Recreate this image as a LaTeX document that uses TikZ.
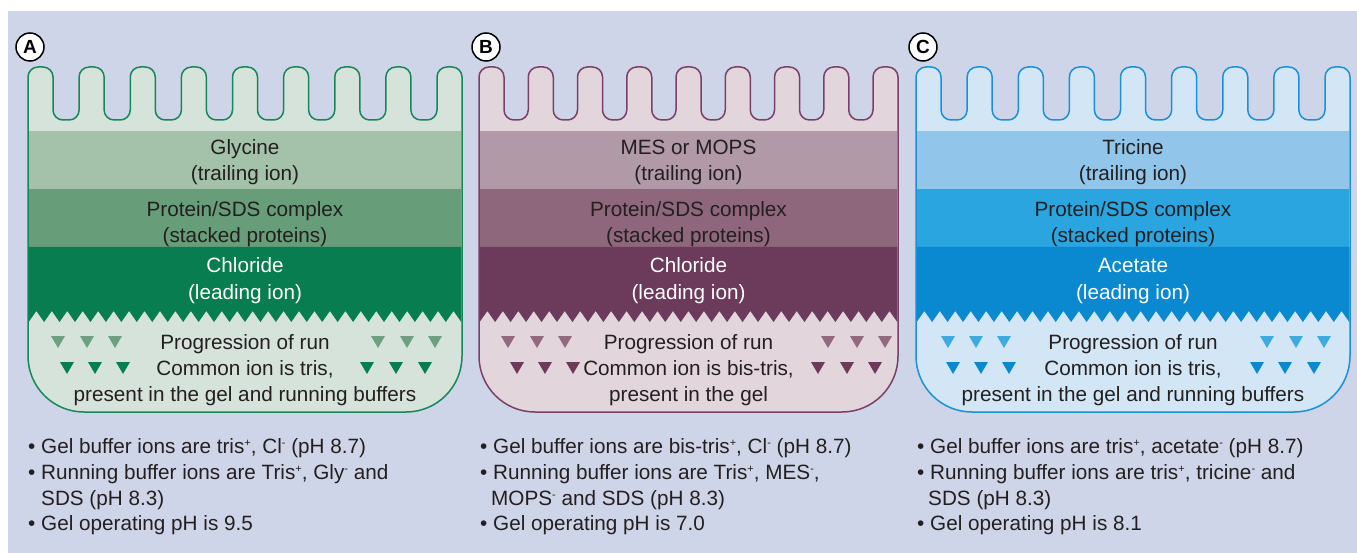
\documentclass[tikz,border=0pt]{standalone}
\usepackage{fontspec}
\setmainfont{Liberation Sans}
\definecolor{bg}{HTML}{CFD5E8}
\definecolor{txtc}{HTML}{231F20}
\definecolor{aL}{HTML}{D6E3DB}\definecolor{aO}{HTML}{17875A}
\definecolor{aA}{HTML}{A3C2A9}\definecolor{aB}{HTML}{689D79}\definecolor{aC}{HTML}{087D4F}
\definecolor{aT}{HTML}{6E9F80}
\definecolor{bL}{HTML}{E3D5DC}\definecolor{bO}{HTML}{7B4068}
\definecolor{bA}{HTML}{B199A7}\definecolor{bB}{HTML}{8E677C}\definecolor{bC}{HTML}{6C3A5A}
\definecolor{bT}{HTML}{93697F}
\definecolor{cL}{HTML}{D3E6F6}\definecolor{cO}{HTML}{1B8FD8}
\definecolor{cA}{HTML}{92C5EA}\definecolor{cB}{HTML}{2AA5DF}\definecolor{cC}{HTML}{0A89D0}
\definecolor{cT}{HTML}{3DAAE0}
\newcommand\sups[1]{\raisebox{0.62ex}{\fontsize{11}{11}\selectfont #1}}
\newcommand\gelpanel[8]{%
  \pgfmathsetmacro\gL{#1}\pgfmathsetmacro\gR{#2}%
  \pgfmathsetmacro\gW{(\gR-\gL-9*25)/8}%
  \pgfmathsetmacro\gD{(\gR-\gL-1.4)/#8}%
  \filldraw[fill=#3,draw=#4,line width=1.5pt] (\gL,250) [rounded corners=10pt] -- (\gL,67) -- ++(25,0) -- ++(0,53)
    \foreach \k in {1,...,7}{ -- ++(\gW,0) -- ++(0,-53) -- ++(25,0) -- ++(0,53)}
    -- ++(\gW,0) -- ++(0,-53) -- (\gR,67) -- (\gR,200) [rounded corners=56pt] -- (\gR,412) -- (\gL,412) -- cycle;
  \fill[#5] (\gL+0.75,131) rectangle (\gR-0.75,189);
  \fill[#6] (\gL+0.75,189) rectangle (\gR-0.75,247);
  \fill[#7] (\gL+0.75,247) -- (\gR-0.75,247) -- (\gR-0.75,322)
    \foreach \i in {1,...,#8}{ -- ++(-\gD/2,-11) -- ++(-\gD/2,11)} -- cycle;
}
\newcommand\tri[3]{\fill[#1] (#2-7,#3-6) -- (#2+7,#3-6) -- (#2,#3+6) -- cycle;}
\begin{document}
\begin{tikzpicture}[x=1pt,y=-1pt,
  txt/.style={anchor=base,inner sep=0pt,font=\fontsize{20.7}{26}\selectfont,text=txtc},
  txtw/.style={txt,text=white},
  btxt/.style={anchor=base west,inner sep=0pt,font=\fontsize{20.7}{26}\selectfont,text=txtc},
  circlab/.style={circle,draw=black,line width=1.5pt,fill=white,inner sep=0pt,minimum size=28pt,font=\fontsize{19}{19}\selectfont\bfseries}]
\useasboundingbox (0,0) rectangle (1357,553);
\fill[white] (0,0) rectangle (1357,553);
\fill[bg] (8,11) rectangle (1357,553);

% panels
\gelpanel{28}{462}{aL}{aO}{aA}{aB}{aC}{28}
\gelpanel{479}{898}{bL}{bO}{bA}{bB}{bC}{27}
\gelpanel{916}{1350}{cL}{cO}{cA}{cB}{cC}{28}

% labels
\node[circlab] (labA) at (30,47) {A};
\node[circlab] (labB) at (486,47) {B};
\node[circlab] (labC) at (923,47) {C};

% triangles A
\foreach \x in {58,87,115,378,407,435}{\tri{aT}{\x}{342}}
\foreach \x in {67,95,123,367,396,425}{\tri{aC}{\x}{368}}
% triangles B
\foreach \x in {508,537,565,828,857,885}{\tri{bT}{\x}{342}}
\foreach \x in {517,545,573,818,847,875}{\tri{bC}{\x}{368}}
% triangles C
\foreach \x in {948,976,1004,1267,1296,1324}{\tri{cT}{\x}{342}}
\foreach \x in {953,981,1009,1257,1285,1314}{\tri{cC}{\x}{368}}

% panel A text
\node[txt] (a1) at (245,155) {Glycine};
\node[txt] (a2) at (245,181) {(trailing ion)};
\node[txt] (a3) at (245,217) {Protein/SDS complex};
\node[txt] (a4) at (245,243) {(stacked proteins)};
\node[txtw] (a5) at (245,273) {Chloride};
\node[txtw] (a6) at (245,299) {(leading ion)};
\node[txt] (a7) at (245,349) {Progression of run};
\node[txt] (a8) at (245,375) {Common ion is tris,};
\node[txt] (a9) at (245,401) {present in the gel and running buffers};

% panel B text
\node[txt] (b1) at (688.5,155) {MES or MOPS};
\node[txt] (b2) at (688.5,181) {(trailing ion)};
\node[txt] (b3) at (688.5,217) {Protein/SDS complex};
\node[txt] (b4) at (688.5,243) {(stacked proteins)};
\node[txtw] (b5) at (688.5,273) {Chloride};
\node[txtw] (b6) at (688.5,299) {(leading ion)};
\node[txt] (b7) at (688.5,349) {Progression of run};
\node[txt] (b8) at (688.5,375) {Common ion is bis-tris,};
\node[txt] (b9) at (688.5,401) {present in the gel};

% panel C text
\node[txt] (c1) at (1133,155) {Tricine};
\node[txt] (c2) at (1133,181) {(trailing ion)};
\node[txt] (c3) at (1133,217) {Protein/SDS complex};
\node[txt] (c4) at (1133,243) {(stacked proteins)};
\node[txtw] (c5) at (1133,273) {Acetate};
\node[txtw] (c6) at (1133,299) {(leading ion)};
\node[txt] (c7) at (1133,349) {Progression of run};
\node[txt] (c8) at (1133,375) {Common ion is tris,};
\node[txt] (c9) at (1133,401) {present in the gel and running buffers};

% bullets A
\node[btxt] (ab1) at (28,453) {\textbullet\ Gel buffer ions are tris\sups{+}, Cl\sups{-} (pH 8.7)};
\node[btxt] (ab2) at (28,479) {\textbullet\ Running buffer ions are Tris\sups{+}, Gly\sups{-} and};
\node[btxt] (ab3) at (41,505) {SDS (pH 8.3)};
\node[btxt] (ab4) at (28,530) {\textbullet\ Gel operating pH is 9.5};
% bullets B
\node[btxt] (bb1) at (480,453) {\textbullet\ Gel buffer ions are bis-tris\sups{+}, Cl\sups{-} (pH 8.7)};
\node[btxt] (bb2) at (480,479) {\textbullet\ Running buffer ions are Tris\sups{+}, MES\sups{-},};
\node[btxt] (bb3) at (491,505) {MOPS\sups{-} and SDS (pH 8.3)};
\node[btxt] (bb4) at (480,530) {\textbullet\ Gel operating pH is 7.0};
% bullets C
\node[btxt] (cb1) at (917,453) {\textbullet\ Gel buffer ions are tris\sups{+}, acetate\sups{-} (pH 8.7)};
\node[btxt] (cb2) at (917,479) {\textbullet\ Running buffer ions are tris\sups{+}, tricine\sups{-} and};
\node[btxt] (cb3) at (928,505) {SDS (pH 8.3)};
\node[btxt] (cb4) at (917,530) {\textbullet\ Gel operating pH is 8.1};
\end{tikzpicture}
\end{document}
